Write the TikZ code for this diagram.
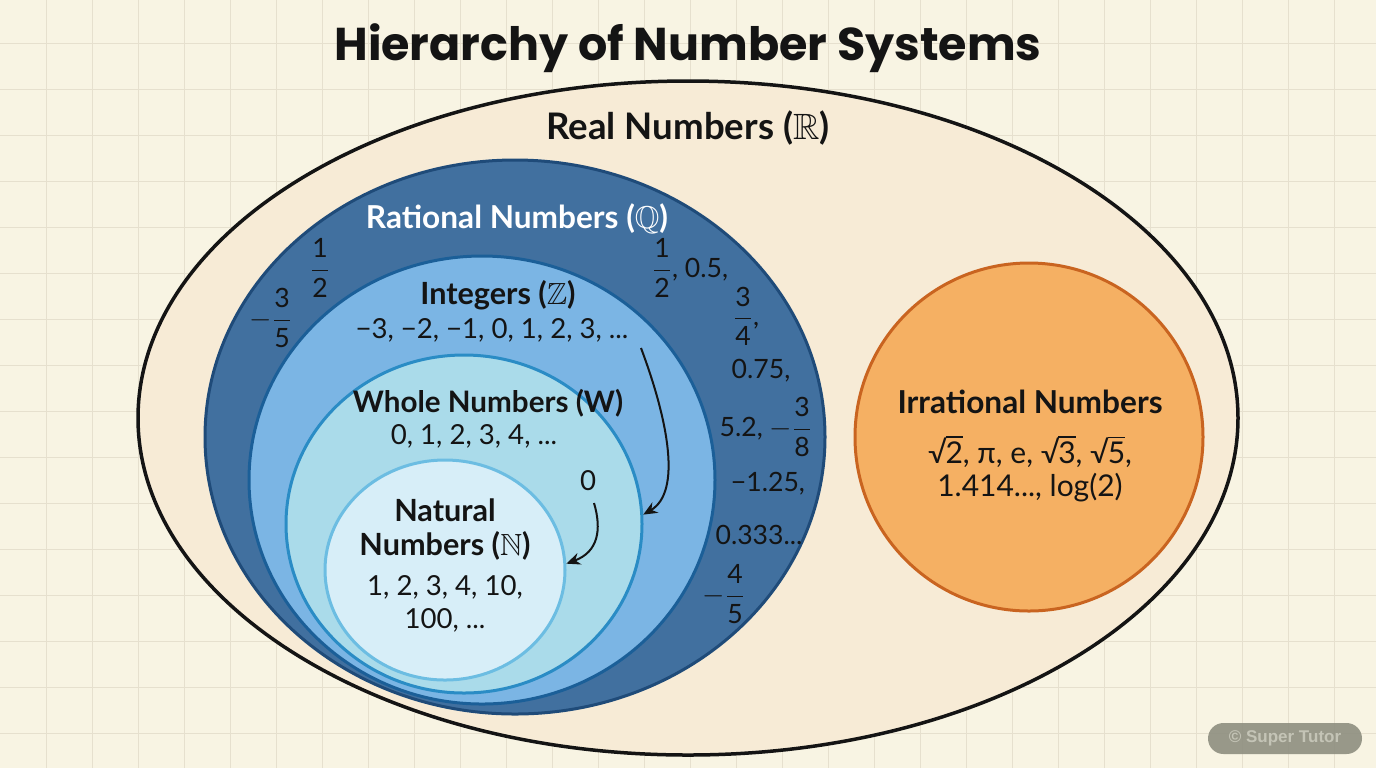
\documentclass[tikz,border=0pt]{standalone}
\usepackage{amsmath}
\usepackage{amssymb}
\usepackage{fontspec}
\setmainfont{Lato}
\newfontfamily\titlefont{Poppins}
\newfontfamily\markfont{Liberation Sans}
\usetikzlibrary{shapes.geometric}
\usetikzlibrary{arrows.meta}
\usetikzlibrary{positioning}
\definecolor{bgc}{HTML}{F8F4E3}
\definecolor{gridc}{HTML}{E6E0CE}
\definecolor{ink}{HTML}{141414}
\definecolor{realfill}{HTML}{F7EBD6}
\definecolor{ratfill}{HTML}{41709F}
\definecolor{ratline}{HTML}{1F4B79}
\definecolor{intfill}{HTML}{7BB5E4}
\definecolor{intline}{HTML}{1B5F98}
\definecolor{wholefill}{HTML}{AADBEA}
\definecolor{wholeline}{HTML}{2A8CC5}
\definecolor{natfill}{HTML}{D7EEF8}
\definecolor{natline}{HTML}{6CBDE2}
\definecolor{irrfill}{HTML}{F5B063}
\definecolor{irrline}{HTML}{C96420}
\definecolor{markc}{HTML}{8E8E80}
\definecolor{marktext}{HTML}{C4C4B6}
\tikzset{set/.style = {ellipse, inner sep=0pt, line width=1.5pt},
         head/.style = {anchor=base, text=ink, font=\bfseries\fontsize{15.3}{18}\selectfont},
         vals/.style = {anchor=base, text=ink, font=\fontsize{13.8}{16}\selectfont},
         frac/.style = {text=ink, font=\fontsize{13.3}{16}\selectfont},
         link/.style = {draw=ink, line width=1pt, -{Stealth[length=7pt, width=6pt]}},
         gridline/.style = {draw=gridc, line width=0.5pt}}
\newcommand{\numfrac}[2]{$\dfrac{\mbox{#1}}{\mbox{#2}}$}
\newcommand{\rootof}[1]{√\kern-0.6pt$\overline{\mbox{#1}}$}

\begin{document}
\begin{tikzpicture}[x=0.5pt, y=-0.5pt]
    \useasboundingbox (0,0) rectangle (1376,768);
    \fill [bgc] (0,0) rectangle (1376,768);
    \foreach \gx in {46,92,...,1376} \draw [gridline] (\gx,0) -- (\gx,768);
    \foreach \gy in {43,89,...,768} \draw [gridline] (0,\gy) -- (1376,\gy);

    \node [set, draw=ink, fill=realfill, line width=1.75pt, minimum width=550pt, minimum height=337pt] (real) at (688,418) {};
    \node [set, draw=ratline, fill=ratfill, minimum width=310pt, minimum height=277pt] (rational) at (515,437) {};
    \node [set, draw=intline, fill=intfill, minimum width=233pt, minimum height=224pt] (integers) at (482,480) {};
    \node [set, draw=wholeline, fill=wholefill, minimum width=178pt, minimum height=169pt] (whole) at (464,524) {};
    \node [set, draw=natline, fill=natfill, minimum width=120pt, minimum height=110pt] (natural) at (445,570) {};
    \node [set, draw=irrline, fill=irrfill, minimum width=174pt, minimum height=174pt] (irrational) at (1029,437) {};

    \node [anchor=base, text=ink, font=\titlefont\bfseries\fontsize{23}{27}\selectfont] (title) at (688,60) {Hierarchy of Number Systems};
    \node [head, font=\bfseries\fontsize{18.3}{21}\selectfont] (reallab) at (688,139) {Real Numbers ($\mathbb{R}$)};
    \node [head, text=white, font=\bfseries\fontsize{15.8}{18}\selectfont] (ratlab) at (517,228) {Rational Numbers ($\mathbb{Q}$)};
    \node [head] (intlab) at (498,304) {Integers ($\mathbb{Z}$)};
    \node [vals] (intlist) at (492,338) {−3, −2, −1, 0, 1, 2, 3, ...};
    \node [head, font=\bfseries\fontsize{14.8}{18}\selectfont] (wholelab) at (488,412) {Whole Numbers (W)};
    \node [vals] (wholelist) at (474,444) {0, 1, 2, 3, 4, ...};
    \node [vals] (zero) at (588,490) {0};
    \node [head] (natlab) at (445,521) {Natural};
    \node [head] (natlab2) at (445,555) {Numbers ($\mathbb{N}$)};
    \node [vals] (natlist) at (445,595) {1, 2, 3, 4, 10,};
    \node [vals] (natlist2) at (445,628) {100, ...};
    \node [head, font=\bfseries\fontsize{15.8}{18}\selectfont] (irrlab) at (1030,413) {Irrational Numbers};
    \node [vals, font=\fontsize{15}{18}\selectfont] (irrlist) at (1030,463) {\rootof{2}, π, e, \rootof{3}, \rootof{5},};
    \node [vals, font=\fontsize{15}{18}\selectfont] (irrlist2) at (1030,496) {1.414..., log(2)};

    \node [frac] (qa) at (320,268) {\numfrac{1}{2}};
    \node [frac] (qb) at (271,318) {$-$\numfrac{3}{5}};
    \node [frac] (qc) at (690,268) {\numfrac{1}{2}, 0.5,};
    \node [frac] (qd) at (746,316) {\numfrac{3}{4},};
    \node [vals, font=\fontsize{13.3}{16}\selectfont] (qe) at (761,378) {0.75,};
    \node [frac] (qf) at (766,427) {5.2, $-$\numfrac{3}{8}};
    \node [vals, font=\fontsize{13.3}{16}\selectfont] (qg) at (768,491) {−1.25,};
    \node [vals, font=\fontsize{13.3}{16}\selectfont] (qh) at (759,544) {0.333...};
    \node [frac] (qi) at (724,594) {$-$\numfrac{4}{5}};

    \coordinate (intdown) at (641,348);
    \coordinate (zerodown) at (594,503);
    \draw [link] (intdown) .. controls (668,420) and (682,492) .. (whole.3);
    \draw [link] (zerodown) .. controls (602,530) and (598,552) .. (natural.3);

    \node [rounded corners=7.75pt, fill=markc, fill opacity=0.9, text opacity=1, text=marktext, minimum width=77pt, minimum height=15.5pt, font=\markfont\bfseries\fontsize{8.5}{10}\selectfont] (mark) at (1285,738.5) {\textcopyright\ Super Tutor};
\end{tikzpicture}
\end{document}
